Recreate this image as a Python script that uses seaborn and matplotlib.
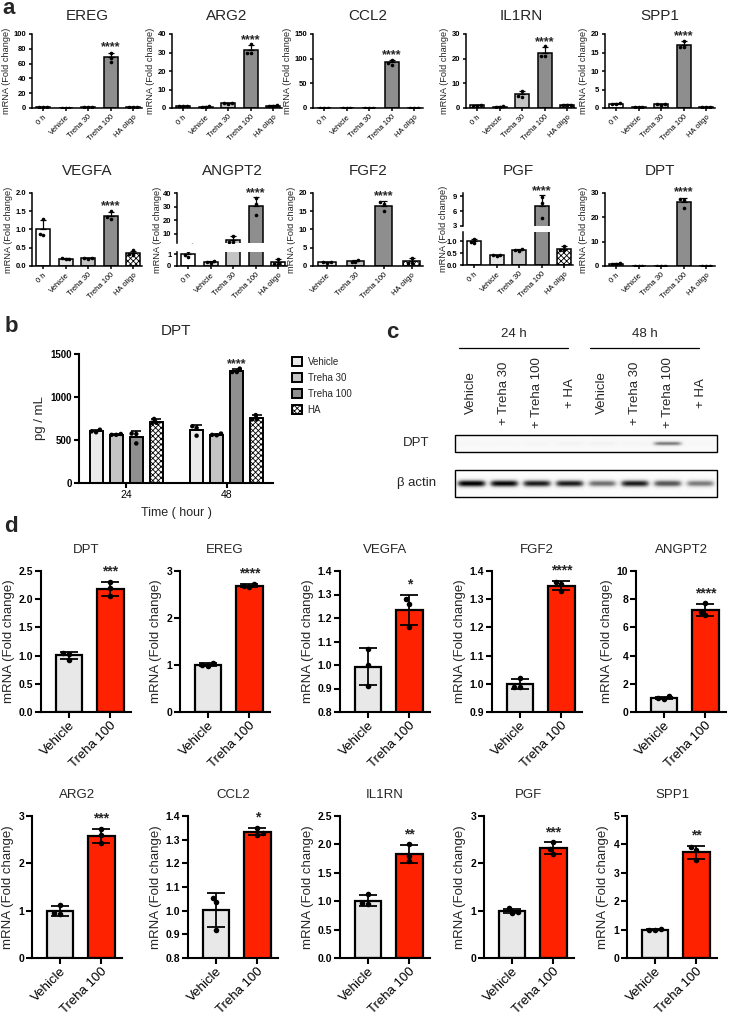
import numpy as np
import pandas as pd
import matplotlib.pyplot as plt
import seaborn as sns
from matplotlib.patches import Rectangle

# ---------------- panel a : qPCR, fold change ----------------
a_groups = ['0 h', 'Vehicle', 'Treha 30', 'Treha 100', 'HA oligo']
a_colors = {'0 h': 'white', 'Vehicle': '#e4e4e4', 'Treha 30': '#c4c4c4',
            'Treha 100': '#8e8e8e', 'HA oligo': 'white'}

a_ereg = [[1.2, 0.9, 1.0], [0.5, 0.6, 0.4], [1.5, 1.8, 1.4], [75.0, 62.0, 68.0], [0.8, 0.7, 0.9]]
a_arg2 = [[1.1, 0.9, 1.2], [0.8, 0.7, 0.9], [2.8, 2.4, 2.6], [34.5, 29.5, 29.5], [1.3, 1.0, 1.4]]
a_ccl2 = [[0.6, 0.5, 0.4], [0.4, 0.5, 0.5], [0.6, 0.8, 0.7], [97.0, 88.0, 92.0], [0.4, 0.5, 0.5]]
a_il1rn = [[1.3, 0.8, 1.0], [0.6, 0.5, 0.7], [7.0, 4.6, 4.9], [25.0, 21.0, 21.0], [1.4, 1.1, 1.3]]
a_spp1 = [[1.4, 1.0, 1.1], [0.2, 0.2, 0.2], [1.2, 0.8, 1.0], [18.2, 16.5, 16.4], [0.2, 0.2, 0.2]]
a_vegfa = [[1.3, 0.85, 0.87], [0.2, 0.21, 0.19], [0.22, 0.2, 0.21], [1.5, 1.3, 1.33], [0.43, 0.31, 0.33]]
a_angpt2 = [[1.3, 0.8, 0.9], [0.4, 0.25, 0.3], [8.5, 3.8, 3.9], [36.0, 24.0, 32.0], [0.6, 0.2, 0.2]]
a_fgf2 = [[1.0, 0.9, 1.1], [1.6, 1.0, 1.1], [17.5, 15.2, 17.0], [2.3, 0.8, 0.9]]
a_pgf = [[1.1, 0.93, 0.97], [0.42, 0.4, 0.41], [0.7, 0.6, 0.62], [8.9, 7.6, 4.7], [0.82, 0.65, 0.63]]
a_dpt = [[1.3, 0.8, 0.9], [0.1, 0.1, 0.1], [0.1, 0.1, 0.1], [27.5, 27.0, 24.0], [0.1, 0.1, 0.1]]
a_star = '****'

# ---------------- panel b : ELISA ----------------
b_times = ['24', '48']
b_groups = ['Vehicle', 'Treha 30', 'Treha 100', 'HA']
b_colors = {'Vehicle': '#ebebeb', 'Treha 30': '#c4c4c4', 'Treha 100': '#8f8f8f', 'HA': 'white'}
b_vehicle = [[620, 600, 590], [660, 640, 550]]
b_treha30 = [[570, 560, 560], [575, 560, 555]]
b_treha100 = [[575, 570, 460], [1330, 1290, 1290]]
b_ha = [[745, 700, 700], [790, 740, 740]]

# ---------------- panel c : western blot ----------------
c_times = ['24 h', '48 h']
c_lanes = ['Vehicle', '+ Treha 30', '+ Treha 100', '+ HA'] * 2
c_dpt_band = [0.02, 0.02, 0.03, 0.05, 0.06, 0.04, 0.55, 0.02]
c_actin_band = [1.0, 0.97, 0.9, 0.9, 0.62, 0.9, 0.72, 0.58]

# ---------------- panel d : qPCR, vehicle vs trehalose ----------------
d_groups = ['Vehicle', 'Treha 100']
d_colors = {'Vehicle': '#e8e8e8', 'Treha 100': '#ff2200'}
d_dpt = [[1.05, 1.03, 0.93], [2.30, 2.20, 2.05]]
d_ereg = [[1.04, 0.99, 0.98], [2.73, 2.68, 2.66]]
d_vegfa = [[1.07, 1.00, 0.91], [1.28, 1.26, 1.16]]
d_fgf2 = [[1.02, 0.99, 0.99], [1.36, 1.355, 1.33]]
d_angpt2 = [[1.10, 1.00, 0.95], [7.70, 7.10, 6.85]]
d_arg2 = [[1.12, 0.95, 0.92], [2.72, 2.60, 2.42]]
d_ccl2 = [[1.055, 1.035, 0.92], [1.35, 1.33, 1.32]]
d_il1rn = [[1.12, 0.96, 0.95], [2.00, 1.80, 1.70]]
d_pgf = [[1.05, 0.98, 0.95], [2.45, 2.30, 2.20]]
d_spp1 = [[1.00, 1.03, 0.97], [3.90, 3.80, 3.45]]

sns.set_theme(style='ticks')
plt.rcParams['font.family'] = ['Liberation Sans', 'DejaVu Sans']
plt.rcParams['hatch.linewidth'] = 0.6

W, H = 730, 1018
fig = plt.figure(figsize=(W / 100, H / 100), dpi=100)
YLAB = 'mRNA (Fold change)'


def add_ax(x0, y0, x1, y1):
    # pixel box (top-left origin) -> figure fraction
    return fig.add_axes([x0 / W, 1 - y1 / H, (x1 - x0) / W, (y1 - y0) / H])


def long_df(groups, reps):
    return pd.DataFrame([(g, v) for g, r in zip(groups, reps) for v in r], columns=['grp', 'val'])


def draw_bars(ax, groups, reps, colors, width, lw, dot, cap, two_sided=False):
    df = long_df(groups, reps)
    sns.barplot(data=df, x='grp', y='val', hue='grp', order=groups, hue_order=groups,
                palette={g: colors[g] for g in groups}, errorbar=None, width=width,
                saturation=1, edgecolor='black', linewidth=lw, legend=False, ax=ax)
    stats = df.groupby('grp')['val'].agg(['mean', 'std'])
    tops = {}
    for bar, g in zip(ax.patches, groups):
        if g.startswith('HA'):
            bar.set_hatch('xxxxxx')
        m, s = stats.loc[g, 'mean'], stats.loc[g, 'std']
        xc = bar.get_x() + bar.get_width() / 2
        ax.errorbar([xc], [m], yerr=[[s if two_sided else 0], [s]], fmt='none', ecolor='black',
                    elinewidth=lw * 0.8, capsize=cap, capthick=lw * 0.8, zorder=3)
        tops[g] = (xc, m + s)
    sns.swarmplot(data=df, x='grp', y='val', order=groups, color='black', size=dot, ax=ax, zorder=4)
    ax.set(xlabel='', ylabel='')
    return tops


def style(ax, ylim, yticks, lw, fs, tl):
    ax.set_ylim(*ylim)
    ints = all(float(t).is_integer() for t in yticks)
    ax.set_yticks(yticks, [f'{t:.0f}' if ints else f'{t:.1f}' for t in yticks],
                  fontsize=fs, fontweight='bold')
    sns.despine(ax=ax)
    for sp in ('left', 'bottom'):
        ax.spines[sp].set_linewidth(lw)
        ax.spines[sp].set_color('black')
    ax.tick_params(width=lw, length=tl, pad=1.5, colors='black')


# ---------------- panel a ----------------
a_specs = [
    ('EREG', a_groups, a_ereg, (0, 100), [0, 20, 40, 60, 80, 100], 32, (34, 108), 10),
    ('ARG2', a_groups, a_arg2, (0, 40), [0, 10, 20, 30, 40], 172, (34, 108), 10),
    ('CCL2', a_groups, a_ccl2, (0, 150), [0, 50, 100, 150], 313, (34, 108), 10),
    ('IL1RN', a_groups, a_il1rn, (0, 30), [0, 10, 20, 30], 466, (34, 108), 10),
    ('SPP1', a_groups, a_spp1, (0, 20), [0, 5, 10, 15, 20], 605, (34, 108), 10),
    ('VEGFA', a_groups, a_vegfa, (0, 2), [0, 0.5, 1.0, 1.5, 2.0], 32, (193, 266), 13),
    ('FGF2', a_groups[1:], a_fgf2, (0, 20), [0, 5, 10, 15, 20], 313, (193, 266), 13),
    ('DPT', a_groups, a_dpt, (0, 30), [0, 10, 20, 30], 605, (193, 266), 13),
]
for name, groups, reps, ylim, yticks, x0, (y0, y1), pad in a_specs:
    ax = add_ax(x0, y0, x0 + 110, y1)
    tops = draw_bars(ax, groups, reps, a_colors, 0.62, 1.1, 2.6, 2.5)
    style(ax, ylim, yticks, 1.1, 5.5, 2.5)
    ax.set_xticks(range(len(groups)), groups, rotation=45, ha='right',
                  rotation_mode='anchor', fontsize=5.5)
    ax.set_xlim(-0.5, len(groups) - 0.6)
    ax.set_title(name, fontsize=11, pad=pad)
    ax.set_ylabel(YLAB, fontsize=6.7, labelpad=2)
    xc, top = tops['Treha 100']
    ax.text(xc, top + 0.03 * (ylim[1] - ylim[0]), a_star, ha='center', va='baseline',
            fontsize=9, fontweight='bold')

# broken-axis genes
a_broken = [
    ('ANGPT2', a_angpt2, (3.0, 40), [10, 20, 30, 40], (193, 243), (0, 1.2), [0, 1], (252, 266), 177),
    ('PGF', a_pgf, (3, 9.7), [3, 6, 9], (193, 226), (0, 1.4), [0.0, 0.5, 1.0], (232, 265), 463),
]
for name, reps, hlim, hticks, (hy0, hy1), llim, lticks, (ly0, ly1), x0 in a_broken:
    axh = add_ax(x0, hy0, x0 + 110, hy1)
    axl = add_ax(x0, ly0, x0 + 110, ly1)
    tops = draw_bars(axh, a_groups, reps, a_colors, 0.62, 1.1, 2.6, 2.5)
    draw_bars(axl, a_groups, reps, a_colors, 0.62, 1.1, 2.6, 2.5)
    style(axh, hlim, hticks, 1.1, 5.5, 2.5)
    style(axl, llim, lticks, 1.1, 5.5, 2.5)
    axh.spines['bottom'].set_visible(False)
    axh.tick_params(axis='x', bottom=False, labelbottom=False)
    axl.set_xticks(range(5), a_groups, rotation=45, ha='right', rotation_mode='anchor', fontsize=5.5)
    for a in (axh, axl):
        a.set_xlim(-0.5, 4.4)
    axh.set_title(name, fontsize=11, pad=13)
    fig.text((x0 - 20) / W, 1 - (hy0 + ly1) / 2 / H, YLAB, rotation=90, fontsize=6.7,
             ha='center', va='center')
    xc, top = tops['Treha 100']
    axh.text(xc, top + 0.03 * (hlim[1] - hlim[0]), a_star, ha='center', va='baseline',
             fontsize=9, fontweight='bold')

# ---------------- panel b ----------------
axb = add_ax(79, 354, 273, 483)
b_reps = [b_vehicle, b_treha30, b_treha100, b_ha]
dfb = pd.DataFrame([(t, g, v) for g, reps in zip(b_groups, b_reps)
                    for t, r in zip(b_times, reps) for v in r], columns=['time', 'grp', 'val'])
sns.barplot(data=dfb, x='time', y='val', hue='grp', order=b_times, hue_order=b_groups,
            palette=b_colors, errorbar=None, gap=0.35, saturation=1, edgecolor='black',
            linewidth=1.4, legend=False, ax=axb)
b_stats = dfb.groupby(['grp', 'time'])['val'].agg(['mean', 'std'])
k = 0
for g in b_groups:
    for t in b_times:
        bar = axb.patches[k]
        k += 1
        if g == 'HA':
            bar.set_hatch('xxxxxx')
        m, s = b_stats.loc[(g, t), 'mean'], b_stats.loc[(g, t), 'std']
        xc = bar.get_x() + bar.get_width() / 2
        axb.errorbar([xc], [m], yerr=[[0], [s]], fmt='none', ecolor='black', elinewidth=1.2,
                     capsize=3.5, capthick=1.2, zorder=3)
        if g == 'Treha 100' and t == '48':
            axb.text(xc, m + s + 20, '****', ha='center', va='baseline', fontsize=9, fontweight='bold')
sns.swarmplot(data=dfb, x='time', y='val', hue='grp', order=b_times, hue_order=b_groups,
              dodge=True, palette={g: 'black' for g in b_groups}, size=3.2, legend=False,
              ax=axb, zorder=4)
style(axb, (0, 1500), [0, 500, 1000, 1500], 1.5, 7, 3.5)
axb.set_xticks([0, 1], b_times, fontsize=7.5)
axb.set_xlim(-0.47, 1.46)
axb.set_xlabel('Time ( hour )', fontsize=9, labelpad=5)
axb.set_ylabel('pg / mL', fontsize=9.5, labelpad=3)
axb.set_title('DPT', fontsize=11, pad=14)
axb.legend([axb.patches[i * len(b_times)] for i in range(len(b_groups))], b_groups,
           loc='upper left', bbox_to_anchor=(292 / W, 1 - 357 / H), bbox_transform=fig.transFigure,
           frameon=False, fontsize=7, handlelength=1.0, handleheight=1.0, labelspacing=0.62,
           handletextpad=0.6, borderaxespad=0, borderpad=0)

# ---------------- panel c ----------------
axc = add_ax(380, 320, 730, 510)
bx0, bx1 = 455, 717
lane_w = (bx1 - bx0) / len(c_lanes)
centers = [bx0 + (i + 0.5) * lane_w for i in range(len(c_lanes))]


def blot(amps, y0, y1, sig_y, bg):
    xs = np.linspace(bx0, bx1, 420)
    ys = np.linspace(y0, y1, 60)
    img = np.full((len(ys), len(xs)), bg)
    for cx, a in zip(centers, amps):
        img += a * np.exp(-((xs[None, :] - cx) / (0.44 * lane_w)) ** 6) \
                 * np.exp(-((ys[:, None] - (y0 + y1) / 2) / sig_y) ** 2)
    axc.imshow(np.clip(img, 0, 1), cmap='Greys', vmin=0, vmax=1, extent=[bx0, bx1, y1, y0],
               aspect='auto', interpolation='bilinear')
    axc.add_patch(Rectangle((bx0, y0), bx1 - bx0, y1 - y0, fill=False, lw=1.0, ec='black'))


blot(c_dpt_band, 435, 452, 2.2, 0.05)
blot(c_actin_band, 470, 497, 3.6, 0.02)
for cx, lab in zip(centers, c_lanes):
    axc.text(cx, 393, lab, rotation=90, ha='center', va='center', fontsize=9.5)
for i, lab in enumerate(c_times):
    xa, xb = centers[4 * i] - 12, centers[4 * i + 3] - 2
    axc.plot([xa, xb], [348, 348], color='black', lw=0.9)
    axc.text((xa + xb) / 2, 334, lab, ha='center', va='center', fontsize=9.5)
axc.text(416, 443, 'DPT', ha='center', va='center', fontsize=9.5)
axc.text(417, 483, 'β actin', ha='center', va='center', fontsize=9.5)
axc.set_xlim(380, 730)
axc.set_ylim(510, 320)
axc.axis('off')

# ---------------- panel d ----------------
d_specs = [
    ('DPT', d_dpt, (0, 2.5), [0, 0.5, 1.0, 1.5, 2.0, 2.5], '***', 41, (571, 712)),
    ('EREG', d_ereg, (0, 3), [0, 1, 2, 3], '****', 180, (571, 712)),
    ('VEGFA', d_vegfa, (0.8, 1.4), [0.8, 0.9, 1.0, 1.1, 1.2, 1.3, 1.4], '*', 340, (571, 712)),
    ('FGF2', d_fgf2, (0.9, 1.4), [0.9, 1.0, 1.1, 1.2, 1.3, 1.4], '****', 492, (571, 712)),
    ('ANGPT2', d_angpt2, (0, 10), [0, 2, 4, 6, 8, 10], '****', 636, (571, 712)),
    ('ARG2', d_arg2, (0, 3), [0, 1, 2, 3], '***', 32, (816, 958)),
    ('CCL2', d_ccl2, (0.8, 1.4), [0.8, 0.9, 1.0, 1.1, 1.2, 1.3, 1.4], '*', 188, (816, 958)),
    ('IL1RN', d_il1rn, (0, 2.5), [0, 0.5, 1.0, 1.5, 2.0, 2.5], '**', 340, (816, 958)),
    ('PGF', d_pgf, (0, 3), [0, 1, 2, 3], '***', 484, (816, 958)),
    ('SPP1', d_spp1, (0, 5), [0, 1, 2, 3, 4, 5], '**', 627, (816, 958)),
]
for name, reps, ylim, yticks, star, x0, (y0, y1) in d_specs:
    ax = add_ax(x0, y0, x0 + 90, y1)
    tops = draw_bars(ax, d_groups, reps, d_colors, 0.64, 1.6, 4.0, 6.5, two_sided=True)
    style(ax, ylim, yticks, 1.5, 7.5, 4)
    ax.set_xticks([0, 1], d_groups, rotation=45, ha='right', rotation_mode='anchor', fontsize=9.5)
    ax.set_xlim(-0.68, 1.5)
    ax.set_title(name, fontsize=9.5, pad=13)
    ax.set_ylabel(YLAB, fontsize=9.5, labelpad=3)
    xc, top = tops['Treha 100']
    ax.text(xc, top + 0.045 * (ylim[1] - ylim[0]), star, ha='center', va='baseline',
            fontsize=10, fontweight='bold')

# panel letters
for lab, (x, y) in zip('abcd', [(2, 9), (5, 327), (386, 333), (4, 527)]):
    fig.text(x / W, 1 - y / H, lab, fontsize=16, fontweight='bold', ha='left', va='center')

fig.savefig('out.png', dpi=100)
